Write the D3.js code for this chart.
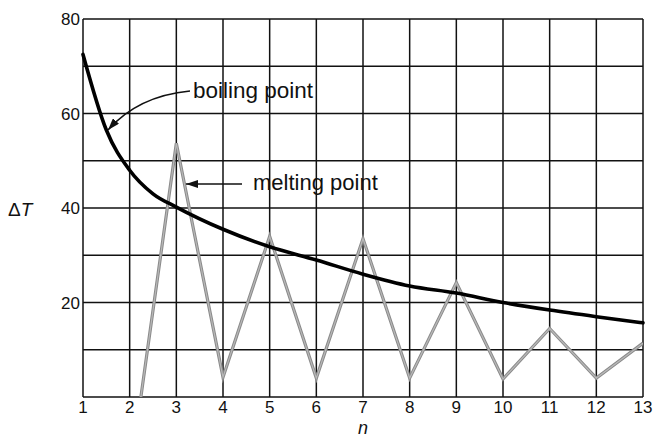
<!DOCTYPE html>
<html><head><meta charset="utf-8">
<script src="https://cdn.jsdelivr.net/npm/d3@7"></script>
<style>body{margin:0;background:#fff}svg{display:block}</style>
</head><body>
<script>
const xTicks = [1,2,3,4,5,6,7,8,9,10,11,12,13];
const yGrid = [0,10,20,30,40,50,60,70,80];
const yLabels = [20,40,60,80];
const boilN = [1,1.5,2,2.5,3,4,5,6,7,8,9,10,11,12,13];
const boilT = [72.5,56.5,48,43,40.2,35.5,31.8,29,26,23.5,22,20,18.4,17,15.7];
const meltN = [2,3,4,5,6,7,8,9,10,11,12,13];
const meltT = [-17,53.7,4.2,34,4,33.5,4,24.2,3.8,14.5,4,11.4];

const W=655,H=437;
const svg=d3.select("body").append("svg").attr("width",W).attr("height",H);
const x=d3.scaleLinear().domain([1,13]).range([83,643]);
const y=d3.scaleLinear().domain([0,80]).range([397,19]);
const font="'Liberation Sans', Arial, sans-serif";

svg.append("defs").append("clipPath").attr("id","clip")
  .append("rect").attr("x",x(1)).attr("y",y(80)).attr("width",x(13)-x(1)).attr("height",y(0)-y(80));

// grid
svg.append("g").selectAll("line").data(xTicks).join("line")
  .attr("x1",d=>x(d)).attr("x2",d=>x(d)).attr("y1",y(0)).attr("y2",y(80))
  .attr("stroke","#111").attr("stroke-width",1.5);
svg.append("g").selectAll("line").data(yGrid).join("line")
  .attr("x1",x(1)).attr("x2",x(13)).attr("y1",d=>y(d)).attr("y2",d=>y(d))
  .attr("stroke","#111").attr("stroke-width",1.5);

// tick labels
svg.append("g").selectAll("text").data(xTicks).join("text")
  .attr("x",d=>x(d)).attr("y",413).attr("text-anchor","middle")
  .attr("font-family",font).attr("font-size",17).attr("fill","#111").text(d=>d);
svg.append("g").selectAll("text").data(yLabels).join("text")
  .attr("x",80).attr("y",d=>y(d)+6).attr("text-anchor","end")
  .attr("font-family",font).attr("font-size",17).attr("fill","#111").text(d=>d);

// axis titles
svg.append("text").attr("x",363).attr("y",434).attr("text-anchor","middle")
  .attr("font-family",font).attr("font-size",18).attr("font-style","italic").attr("fill","#111").text("n");
const dt=svg.append("text").attr("x",8).attr("y",216)
  .attr("font-family",font).attr("font-size",19).attr("fill","#111");
dt.append("tspan").text("Δ");
dt.append("tspan").attr("font-style","italic").text("T");

// melting line
const melt=meltN.map((n,i)=>[n,meltT[i]]);
const lineM=d3.line().x(d=>x(d[0])).y(d=>y(d[1]));
const gm=svg.append("g").attr("clip-path","url(#clip)");
gm.append("path").attr("d",lineM(melt)).attr("fill","none").attr("stroke","#8a8a8a").attr("stroke-width",3.2).attr("stroke-linejoin","miter");
gm.append("path").attr("d",lineM(melt)).attr("fill","none").attr("stroke","#b8b8b8").attr("stroke-width",1.2);

// boiling curve
const boil=boilN.map((n,i)=>[n,boilT[i]]);
svg.append("path").attr("d",d3.line().curve(d3.curveMonotoneX).x(d=>x(d[0])).y(d=>y(d[1]))(boil))
  .attr("fill","none").attr("stroke","#000").attr("stroke-width",3.6).attr("stroke-linecap","round");

// annotations
const defs=svg.select("defs");
defs.append("marker").attr("id","ah").attr("viewBox","0 0 12 8").attr("refX",12).attr("refY",4)
  .attr("markerWidth",12).attr("markerHeight",8).attr("markerUnits","userSpaceOnUse").attr("orient","auto")
  .append("path").attr("d","M0,0 L12,4 L0,8 Z").attr("fill","#111");
svg.append("path").attr("d","M190,91 Q138,96 108,130").attr("fill","none").attr("stroke","#111").attr("stroke-width",1.5).attr("marker-end","url(#ah)");
svg.append("text").attr("x",193).attr("y",98).attr("font-family",font).attr("font-size",22.5).attr("fill","#111").text("boiling point");
svg.append("line").attr("x1",242).attr("y1",184).attr("x2",186).attr("y2",184).attr("stroke","#111").attr("stroke-width",1.5).attr("marker-end","url(#ah)");
svg.append("text").attr("x",253).attr("y",190).attr("font-family",font).attr("font-size",22).attr("fill","#111").text("melting point");
</script>
</body></html>
